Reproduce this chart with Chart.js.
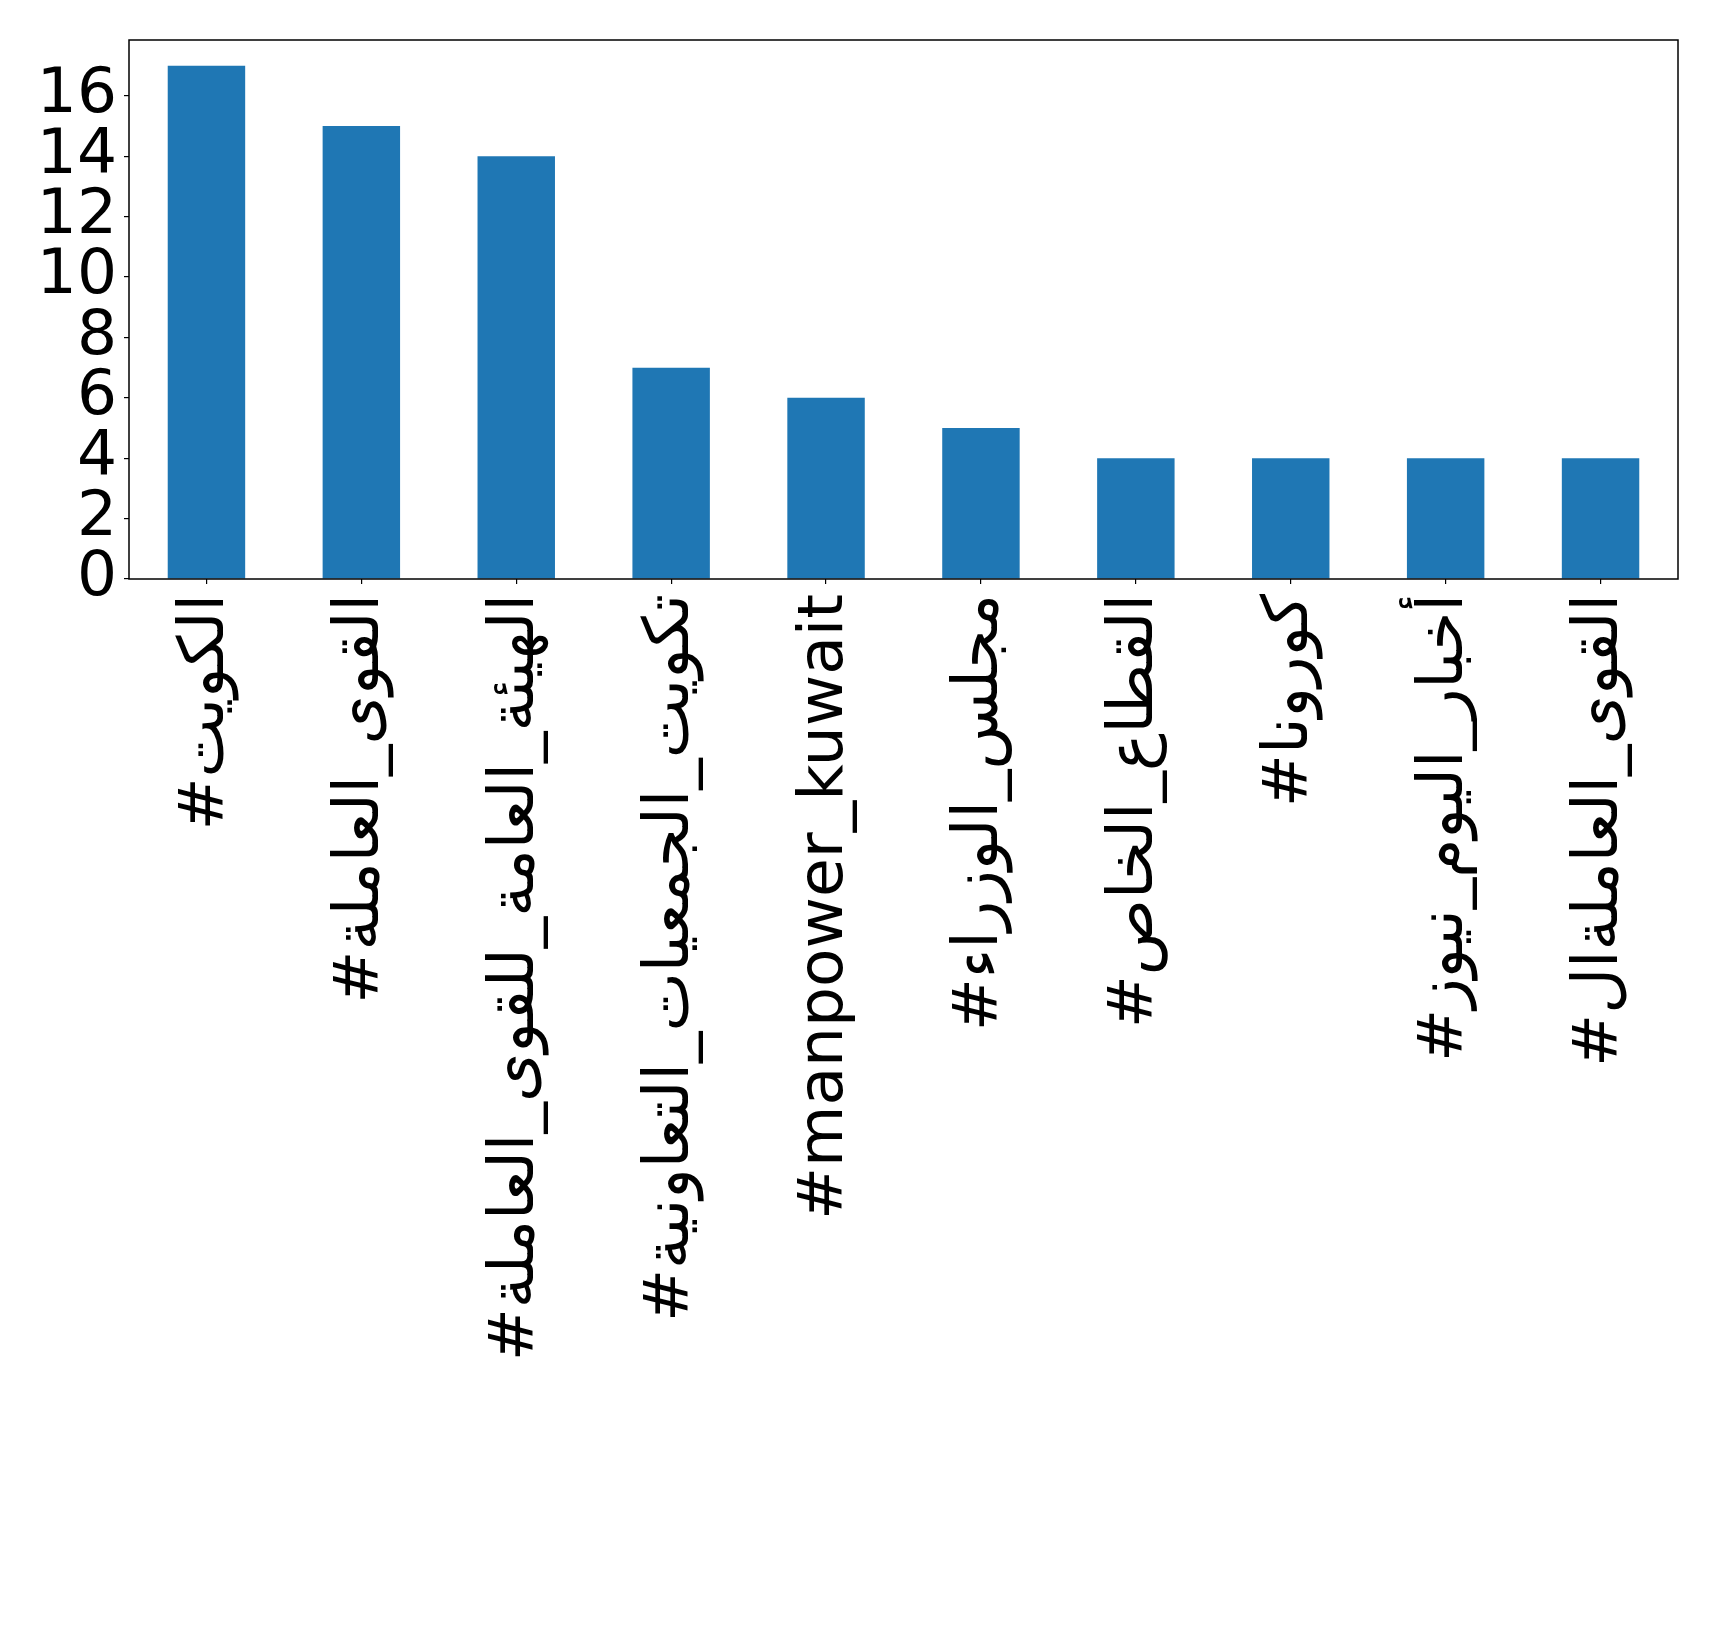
<!DOCTYPE html>
<html>
<head>
<meta charset="utf-8">
<script src="https://cdn.jsdelivr.net/npm/chart.js@4.4.0/dist/chart.umd.min.js"></script>
<style>
  html, body { margin: 0; padding: 0; background: #fff; }
  #wrap { width: 1719px; height: 1643px; }
</style>
</head>
<body>
<div id="wrap"><canvas id="hashtagChart" width="1719" height="1643"></canvas></div>
<script>
// Hashtag counts
const hashtags = [
    '#الكويت',
    '#القوى_العاملة',
    '#الهيئة_العامة_للقوى_العاملة',
    '#تكويت_الجمعيات_التعاونية',
    '#manpower_kuwait',
    '#مجلس_الوزراء',
    '#القطاع_الخاص',
    '#كورونا',
    '#أخبار_اليوم_نيوز',
    '#القوى_العاملةال'
];
const counts = [17, 15, 14, 7, 6, 5, 4, 4, 4, 4];
const yTicks = [0, 2, 4, 6, 8, 10, 12, 14, 16];

const FONT = { family: '"DejaVu Sans", sans-serif', size: 63 };

// box around the plot area, like matplotlib's spines
const frame = {
    id: 'frame',
    afterDraw(chart) {
        const a = chart.chartArea;
        const ctx = chart.ctx;
        ctx.save();
        ctx.strokeStyle = '#000';
        ctx.lineWidth = 1.5;
        ctx.strokeRect(a.left, a.top, a.right - a.left, a.bottom - a.top);
        ctx.restore();
    }
};

document.addEventListener('DOMContentLoaded', function() {
    const ctx = document.getElementById('hashtagChart').getContext('2d');
    new Chart(ctx, {
        type: 'bar',
        data: {
            labels: hashtags,
            datasets: [{
                data: counts,
                backgroundColor: '#1f77b4',
                borderWidth: 0,
                categoryPercentage: 1.0,
                barPercentage: 0.5
            }]
        },
        options: {
            responsive: false,
            animation: false,
            layout: { padding: { top: 40, right: 41, left: 0, bottom: 0 } },
            plugins: {
                legend: { display: false },
                tooltip: { enabled: false }
            },
            scales: {
                x: {
                    grid: { offset: false, drawOnChartArea: false, drawTicks: true, tickLength: 5, color: '#000', lineWidth: 1.2 },
                    border: { display: false },
                    ticks: {
                        color: '#000',
                        font: FONT,
                        minRotation: 90,
                        maxRotation: 90,
                        autoSkip: false,
                        padding: 10
                    },
                    afterFit(scale) {
                        scale.height = 1643 - 579;
                        scale.paddingLeft = 0;
                        scale.paddingRight = 0;
                    }
                },
                y: {
                    min: 0,
                    max: 17.85,
                    grid: { drawOnChartArea: false, drawTicks: true, tickLength: 5, color: '#000', lineWidth: 1.2 },
                    border: { display: false },
                    afterBuildTicks(scale) {
                        scale.ticks = yTicks.map(v => ({ value: v }));
                    },
                    ticks: {
                        color: '#000',
                        font: FONT,
                        autoSkip: false,
                        padding: 7
                    },
                    afterFit(scale) {
                        scale.width = 129;
                        scale.paddingTop = 0;
                        scale.paddingBottom = 0;
                    }
                }
            }
        },
        plugins: [frame]
    });
});
</script>
</body>
</html>
